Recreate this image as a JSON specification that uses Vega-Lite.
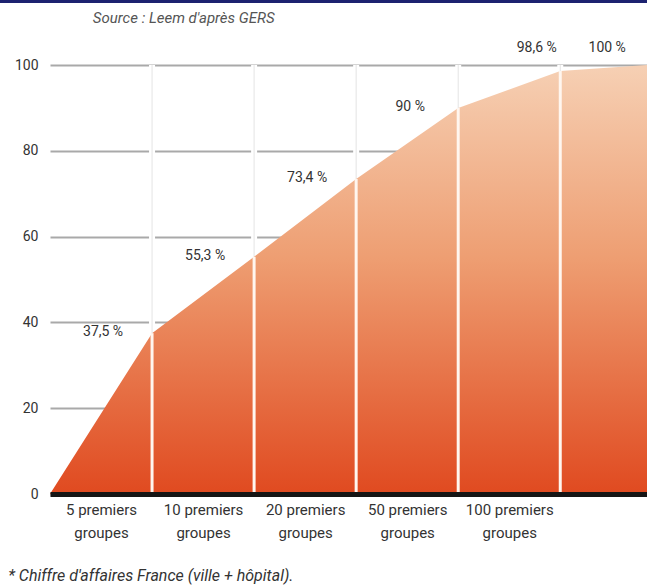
{
  "$schema": "https://vega.github.io/schema/vega-lite/v6.json",
  "width": 597,
  "height": 429,
  "autosize": {"type": "none"},
  "padding": {"left": 50, "top": 65, "right": 0, "bottom": 92},
  "background": "white",
  "config": {"view": {"stroke": null}, "font": "Roboto"},
  "datasets": {
    "curve": [
      {"x": 0, "pct": 0},
      {"x": 1, "pct": 37.5},
      {"x": 2, "pct": 55.3},
      {"x": 3, "pct": 73.4},
      {"x": 4, "pct": 90},
      {"x": 5, "pct": 98.6},
      {"x": 5.85, "pct": 100}
    ],
    "dividers": [
      {"x": 1, "pct": 37.5},
      {"x": 2, "pct": 55.3},
      {"x": 3, "pct": 73.4},
      {"x": 4, "pct": 90},
      {"x": 5, "pct": 98.6}
    ],
    "labels": [
      {"x": 0.52, "pct": 37.5, "label": "37,5 %"},
      {"x": 1.52, "pct": 55.3, "label": "55,3 %"},
      {"x": 2.52, "pct": 73.4, "label": "73,4 %"},
      {"x": 3.53, "pct": 90, "label": "90 %"},
      {"x": 4.77, "pct": 98.6, "label": "98,6 %"},
      {"x": 5.46, "pct": 100, "label": "100 %"}
    ]
  },
  "layer": [
    {
      "data": {"name": "dividers"},
      "mark": {"type": "rule", "stroke": "white", "strokeWidth": 6},
      "encoding": {
        "x": {
          "field": "x",
          "type": "quantitative",
          "scale": {"domain": [0, 5.85], "nice": false, "zero": false},
          "axis": {
            "title": null,
            "values": [0.5, 1.5, 2.5, 3.5, 4.5],
            "labelExpr": "[['5','10','20','50','100'][floor(datum.value)] + ' premiers', 'groupes']",
            "labelFontSize": 15,
            "labelColor": "#333333",
            "labelLineHeight": 23,
            "labelPadding": 8,
            "ticks": false,
            "grid": false,
            "domain": true,
            "domainColor": "#151515",
            "domainWidth": 5,
            "zindex": 2
          }
        },
        "y": {
          "datum": 0,
          "type": "quantitative",
          "scale": {"domain": [0, 100], "nice": false},
          "axis": {
            "title": null,
            "values": [0, 20, 40, 60, 80, 100],
            "labelFontSize": 14,
            "labelColor": "#333333",
            "labelPadding": 12,
            "ticks": false,
            "domain": false,
            "grid": true,
            "gridColor": "#a9a9a9",
            "gridWidth": 2,
            "zindex": 0
          }
        },
        "y2": {"datum": 100}
      }
    },
    {
      "data": {"name": "dividers"},
      "mark": {"type": "rule", "stroke": "#e4e4e4", "strokeWidth": 1},
      "encoding": {
        "x": {"field": "x", "type": "quantitative"},
        "y": {"datum": 0, "type": "quantitative"},
        "y2": {"datum": 100}
      }
    },
    {
      "data": {"name": "curve"},
      "mark": {
        "type": "area",
        "interpolate": "linear",
        "color": {
          "gradient": "linear",
          "x1": 0, "y1": 0, "x2": 0, "y2": 1,
          "stops": [
            {"offset": 0, "color": "#f6d0b4"},
            {"offset": 0.45, "color": "#ee9e72"},
            {"offset": 1, "color": "#e04a20"}
          ]
        }
      },
      "encoding": {
        "x": {"field": "x", "type": "quantitative"},
        "y": {"field": "pct", "type": "quantitative"}
      }
    },
    {
      "data": {"name": "dividers"},
      "mark": {"type": "rule", "stroke": "#fff6ef", "strokeWidth": 3},
      "encoding": {
        "x": {"field": "x", "type": "quantitative"},
        "y": {"field": "pct", "type": "quantitative"},
        "y2": {"datum": 0}
      }
    },
    {
      "data": {"name": "labels"},
      "transform": [{"filter": "datum.pct < 95"}],
      "mark": {"type": "text", "fontSize": 14, "color": "#333333", "baseline": "middle", "dy": -1},
      "encoding": {
        "x": {"field": "x", "type": "quantitative"},
        "y": {"field": "pct", "type": "quantitative"},
        "text": {"field": "label"},
        "yOffset": {"condition": {"test": "datum.pct < 40", "value": 13}, "value": 0}
      }
    },
    {
      "data": {"name": "labels"},
      "transform": [{"filter": "datum.pct >= 95"}],
      "mark": {"type": "text", "fontSize": 14, "color": "#333333", "baseline": "middle", "dy": -17},
      "encoding": {
        "x": {"field": "x", "type": "quantitative"},
        "y": {"datum": 100, "type": "quantitative"},
        "text": {"field": "label"}
      }
    },
    {
      "data": {"values": [{"note": "Source : Leem d'après GERS"}]},
      "mark": {"type": "text", "fontSize": 15, "fontStyle": "italic", "color": "#555555", "align": "left", "baseline": "middle"},
      "encoding": {
        "x": {"datum": 0.42, "type": "quantitative"},
        "y": {"datum": 111, "type": "quantitative"},
        "text": {"field": "note"}
      }
    },
    {
      "data": {"values": [{"note": "* Chiffre d'affaires France (ville + hôpital)."}]},
      "mark": {"type": "text", "fontSize": 16, "fontStyle": "italic", "color": "#333333", "align": "left", "baseline": "middle"},
      "encoding": {
        "x": {"datum": -0.41, "type": "quantitative"},
        "y": {"datum": -19.1, "type": "quantitative"},
        "text": {"field": "note"}
      }
    },
    {
      "data": {"values": [{"band": "top"}]},
      "mark": {"type": "rule", "stroke": "#1c2270", "strokeWidth": 3},
      "encoding": {
        "x": {"datum": -0.49, "type": "quantitative"},
        "x2": {"datum": 5.85},
        "y": {"datum": 114.8, "type": "quantitative"}
      }
    }
  ]
}
